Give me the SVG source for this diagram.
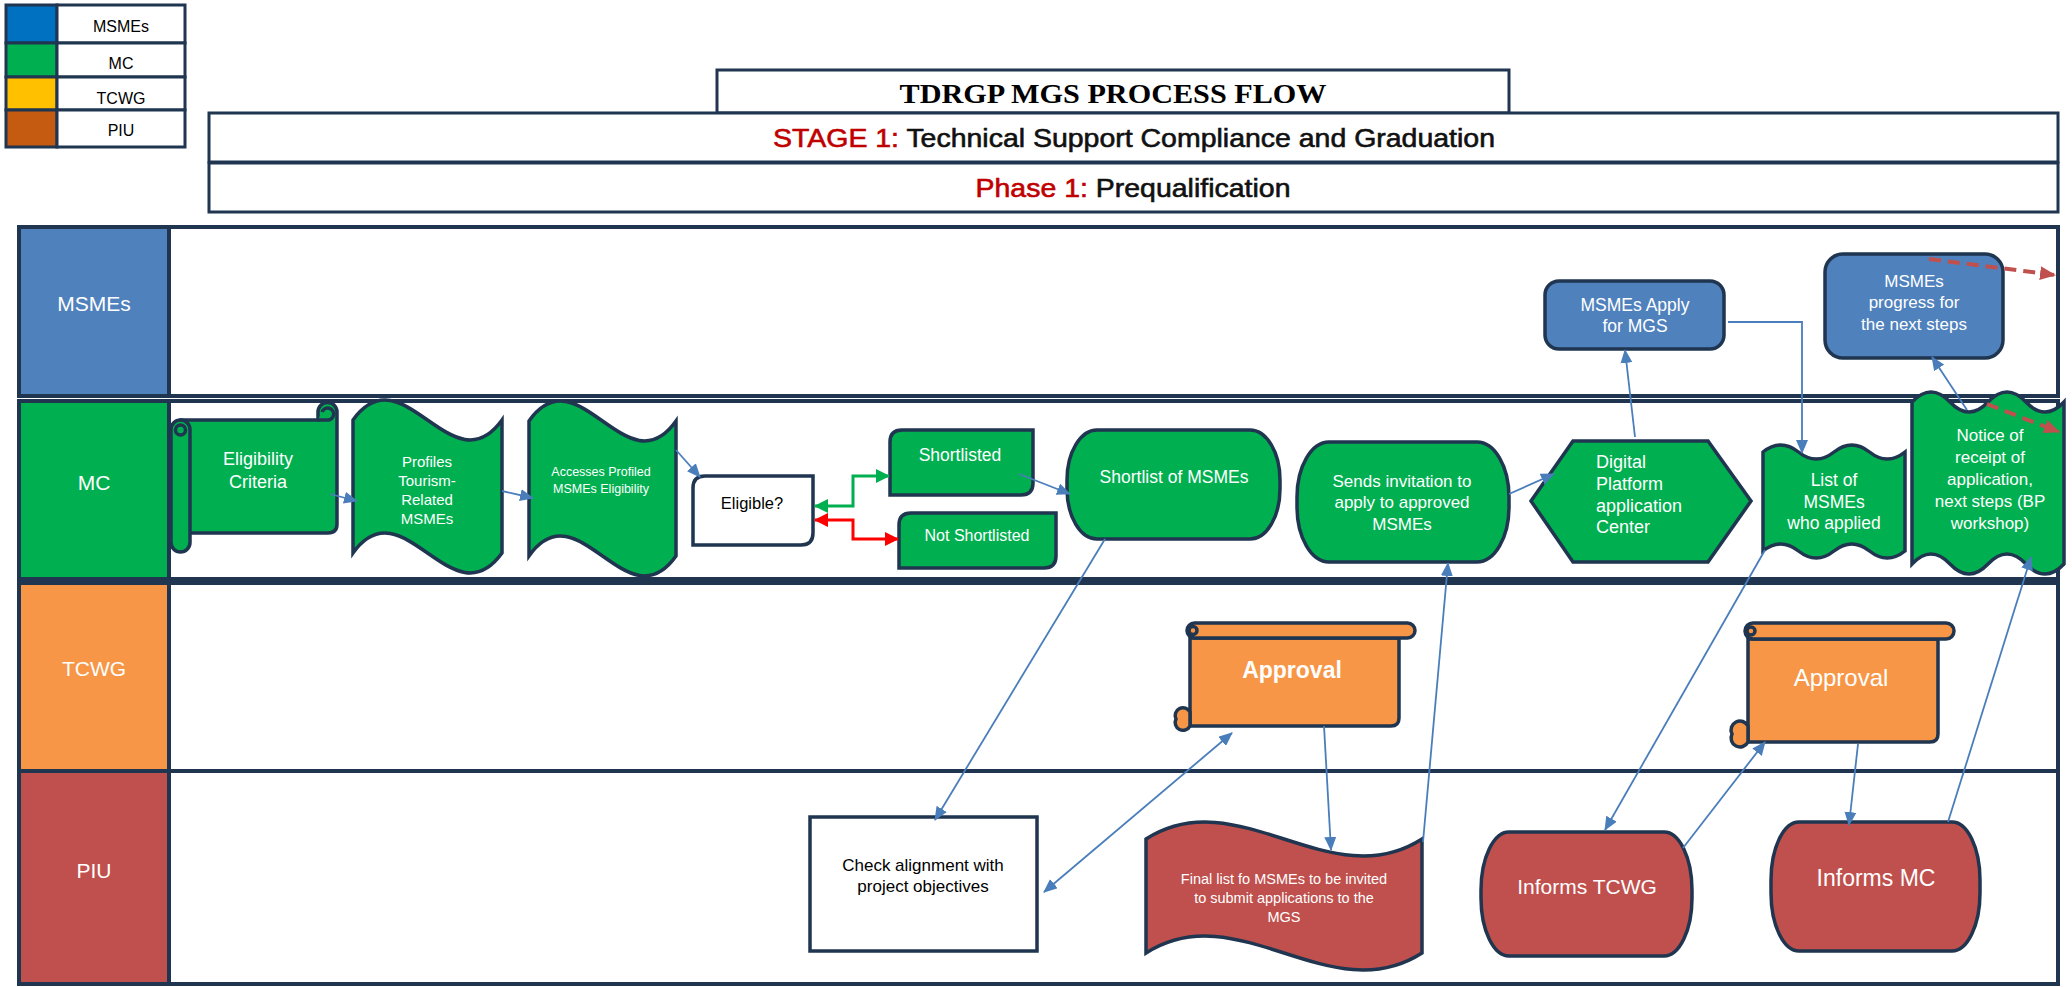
<svg xmlns="http://www.w3.org/2000/svg" width="2072" height="987" viewBox="0 0 2072 987">
<style>
text{font-family:"Liberation Sans",Arial,sans-serif;}
text.serif{font-family:"Liberation Serif","Times New Roman",serif;font-weight:bold;}
text.med{stroke:#111;stroke-width:0.6;}
tspan.red{fill:#c00000;stroke:#c00000;}
.t{fill:#fff;text-anchor:middle;dominant-baseline:central;}
.k{fill:#000;text-anchor:middle;dominant-baseline:central;}
.ol{stroke:#1f3550;stroke-width:3.5;}
.lane{fill:#fff;stroke:#1f3550;stroke-width:4;}
.hdr{stroke:#1f3550;stroke-width:4;}
.g{fill:#00b050;}
.b{fill:#4f81bd;}
.o{fill:#f79646;}
.r{fill:#c0504d;}
.w{fill:#fff;}
.c{fill:none;stroke:#4a7ebb;stroke-width:1.8;}
.box{stroke:#1f3550;stroke-width:3;}
.lg1{fill:#0070c0;}
.lg2{fill:#00b050;}
.lg3{fill:#ffc000;}
.lg4{fill:#c55a11;}
</style>
<defs>
<marker id="ab" markerUnits="userSpaceOnUse" markerWidth="14" markerHeight="12" refX="13" refY="6" orient="auto-start-reverse"><path d="M0,0 L14,6 L0,12 z" fill="#4a7ebb"/></marker>
<marker id="ag" markerUnits="userSpaceOnUse" markerWidth="14" markerHeight="14" refX="13" refY="7" orient="auto-start-reverse"><path d="M0,0 L14,7 L0,14 z" fill="#00b050"/></marker>
<marker id="ar" markerUnits="userSpaceOnUse" markerWidth="14" markerHeight="14" refX="13" refY="7" orient="auto-start-reverse"><path d="M0,0 L14,7 L0,14 z" fill="#ff0000"/></marker>
<marker id="ad" markerUnits="userSpaceOnUse" markerWidth="16" markerHeight="14" refX="15" refY="7" orient="auto"><path d="M0,0 L16,7 L0,14 z" fill="#c0504d"/></marker>
</defs>
<rect width="2072" height="987" fill="#fff"/>

<!-- Legend -->
<g id="legend">
<rect x="6" y="5" width="51" height="38" class="box lg1"/>
<rect x="57" y="5" width="128" height="38" class="box w"/>
<rect x="6" y="43" width="51" height="34" class="box lg2"/>
<rect x="57" y="43" width="128" height="34" class="box w"/>
<rect x="6" y="77" width="51" height="33" class="box lg3"/>
<rect x="57" y="77" width="128" height="33" class="box w"/>
<rect x="6" y="110" width="51" height="37" class="box lg4"/>
<rect x="57" y="110" width="128" height="37" class="box w"/>
<text class="k" x="121" y="26" font-size="16">MSMEs</text>
<text class="k" x="121" y="63" font-size="16">MC</text>
<text class="k" x="121" y="98" font-size="16">TCWG</text>
<text class="k" x="121" y="130" font-size="16">PIU</text>
</g>

<!-- Titles -->
<g id="titles">
<rect x="717" y="70" width="792" height="43" class="box w"/>
<text class="serif" x="1113" y="103" font-size="28" text-anchor="middle" textLength="427" lengthAdjust="spacingAndGlyphs" fill="#000">TDRGP MGS PROCESS FLOW</text>
<rect x="209" y="113" width="1849" height="49" class="box w"/>
<text class="med" x="1134" y="147" font-size="26" text-anchor="middle" textLength="722" lengthAdjust="spacingAndGlyphs" fill="#111"><tspan class="red">STAGE 1:</tspan> Technical Support Compliance and Graduation</text>
<rect x="209" y="163" width="1849" height="49" class="box w"/>
<text class="med" x="1133" y="197" font-size="26" text-anchor="middle" textLength="315" lengthAdjust="spacingAndGlyphs" fill="#111"><tspan class="red">Phase 1:</tspan> Prequalification</text>
</g>

<!-- Lanes -->
<g id="lanes">
<rect x="19" y="227" width="2039" height="169" class="lane"/>
<rect x="19" y="227" width="150" height="169" class="hdr b"/>
<text class="t" x="94" y="303" font-size="21">MSMEs</text>
<rect x="19" y="401" width="2039" height="178" class="lane"/>
<rect x="19" y="401" width="150" height="178" class="hdr g"/>
<text class="t" x="94" y="482" font-size="21">MC</text>
<rect x="19" y="583" width="2039" height="188" class="lane"/>
<rect x="19" y="583" width="150" height="188" class="hdr o"/>
<text class="t" x="94" y="668" font-size="21">TCWG</text>
<rect x="19" y="771" width="2039" height="213" class="lane"/>
<rect x="19" y="771" width="150" height="213" class="hdr r"/>
<text class="t" x="94" y="870" font-size="21">PIU</text>
</g>

<!-- MC nodes -->
<g id="eligibility-criteria">
<path class="g ol" d="M181,420 H318 V412 A9.5,9.5 0 0 1 337,412 V524 Q337,533 328,533 H181 Z"/>
<path class="g ol" d="M318,420 H327 A6,6 0 1 0 322,412"/>
<rect class="g ol" x="171" y="420" width="19" height="132" rx="9.5"/>
<circle class="g ol" cx="180.5" cy="430" r="5" stroke-width="2.5"/>
<text class="t" x="258" y="459" font-size="18">Eligibility</text>
<text class="t" x="258" y="482" font-size="18">Criteria</text>
</g>
<g id="profiles">
<path class="g ol" d="M353,420 C402.7,351 452.3,489 502,420 L502,553 C452.3,622 402.7,484 353,553 Z"/>
<text class="t" x="427" y="461" font-size="15">Profiles</text>
<text class="t" x="427" y="480" font-size="15">Tourism-</text>
<text class="t" x="427" y="499" font-size="15">Related</text>
<text class="t" x="427" y="518" font-size="15">MSMEs</text>
</g>
<g id="accesses">
<path class="g ol" d="M529,421 C578,352 627,490 676,421 L676,556 C627,625 578,487 529,556 Z"/>
<text class="t" x="601" y="472" font-size="12.5">Accesses Profiled</text>
<text class="t" x="601" y="489" font-size="12.5">MSMEs Eligibility</text>
</g>
<g id="eligible">
<path class="w ol" d="M705,476 H813 V533 Q813,545 801,545 H693 V488 Q693,476 705,476 Z"/>
<text class="k" x="752" y="503" font-size="16.5">Eligible?</text>
</g>
<g id="shortlisted">
<path class="g ol" d="M902,430 H1033 V483 Q1033,495 1021,495 H890 V442 Q890,430 902,430 Z"/>
<text class="t" x="960" y="455" font-size="17.5">Shortlisted</text>
</g>
<g id="not-shortlisted">
<path class="g ol" d="M911,513 H1056 V556 Q1056,568 1044,568 H899 V525 Q899,513 911,513 Z"/>
<text class="t" x="977" y="535" font-size="16">Not Shortlisted</text>
</g>
<g id="shortlist-of-msmes">
<rect class="g ol" x="1067" y="430" width="213" height="109" rx="30" ry="50"/>
<text class="t" x="1174" y="477" font-size="17.5">Shortlist of MSMEs</text>
</g>
<g id="sends-invitation">
<rect class="g ol" x="1297" y="442" width="212" height="120" rx="32" ry="55"/>
<text class="t" x="1402" y="481" font-size="17">Sends invitation to</text>
<text class="t" x="1402" y="502" font-size="17">apply to approved</text>
<text class="t" x="1402" y="524" font-size="17">MSMEs</text>
</g>
<g id="digital-platform">
<polygon class="g ol" points="1531,501 1573,441 1708,441 1751,501 1708,562 1573,562"/>
<text fill="#fff" dominant-baseline="central" x="1596" y="462" font-size="18">Digital</text>
<text fill="#fff" dominant-baseline="central" x="1596" y="484" font-size="18">Platform</text>
<text fill="#fff" dominant-baseline="central" x="1596" y="506" font-size="18">application</text>
<text fill="#fff" dominant-baseline="central" x="1596" y="527" font-size="18">Center</text>
</g>
<g id="list-of-msmes">
<path class="g ol" d="M1763,452 Q1780.75,438 1798.5,452 T1834,452 T1869.5,452 T1905,452 L1905,551 Q1887.25,565 1869.5,551 T1834,551 T1798.5,551 T1763,551 Z"/>
<text class="t" x="1834" y="480" font-size="17.5">List of</text>
<text class="t" x="1834" y="502" font-size="17.5">MSMEs</text>
<text class="t" x="1834" y="523" font-size="17.5">who applied</text>
</g>
<g id="notice">
<path class="g ol" d="M1912,402 Q1931,382 1950,402 T1988,402 T2026,402 T2064,402 L2064,564 Q2045,584 2026,564 T1988,564 T1950,564 T1912,564 Z"/>
<text class="t" x="1990" y="435" font-size="17">Notice of</text>
<text class="t" x="1990" y="457" font-size="17">receipt of</text>
<text class="t" x="1990" y="479" font-size="17">application,</text>
<text class="t" x="1990" y="501" font-size="17">next steps (BP</text>
<text class="t" x="1990" y="523" font-size="17">workshop)</text>
</g>

<!-- MSMEs nodes -->
<g id="msmes-apply">
<rect class="b ol" x="1545" y="281" width="179" height="68" rx="14"/>
<text class="t" x="1635" y="305" font-size="17.5">MSMEs Apply</text>
<text class="t" x="1635" y="326" font-size="17.5">for MGS</text>
</g>
<g id="msmes-progress">
<rect class="b ol" x="1825" y="254" width="178" height="104" rx="18"/>
<text class="t" x="1914" y="281" font-size="17">MSMEs</text>
<text class="t" x="1914" y="302" font-size="17">progress for</text>
<text class="t" x="1914" y="324" font-size="17">the next steps</text>
</g>

<!-- TCWG nodes -->
<g id="approval-1">
<path class="o ol" d="M1190,638 V726 H1391 Q1399,726 1399,718 V638 Z"/>
<path class="o ol" d="M1190,712 A7,7 0 0 0 1176,719 A7,7 0 0 0 1190,726 Z"/>
<rect class="o ol" x="1187" y="623" width="228" height="15" rx="7.5"/>
<circle class="o ol" cx="1193" cy="630.5" r="4" stroke-width="2"/>
<text class="t" x="1292" y="670" font-size="23" font-weight="bold">Approval</text>
</g>
<g id="approval-2">
<path class="o ol" d="M1748,639 V742 H1930 Q1938,742 1938,734 V639 Z"/>
<path class="o ol" d="M1748,726 A8,8 0 0 0 1732,734 A8,8 0 0 0 1748,742 Z"/>
<rect class="o ol" x="1745" y="623" width="209" height="16" rx="8"/>
<circle class="o ol" cx="1751" cy="631" r="4" stroke-width="2"/>
<text class="t" x="1841" y="677" font-size="24">Approval</text>
</g>

<!-- PIU nodes -->
<g id="check-alignment">
<rect class="w ol" x="810" y="817" width="227" height="134"/>
<text class="k" x="923" y="865" font-size="17">Check alignment with</text>
<text class="k" x="923" y="886" font-size="17">project objectives</text>
</g>
<g id="final-list">
<path class="r ol" d="M1146,839 C1238,780 1330,898 1422,839 L1422,953 C1330,1012 1238,894 1146,953 Z"/>
<text class="t" x="1284" y="879" font-size="14.5">Final list fo MSMEs to be invited</text>
<text class="t" x="1284" y="898" font-size="14.5">to submit applications to the</text>
<text class="t" x="1284" y="917" font-size="14.5">MGS</text>
</g>
<g id="informs-tcwg">
<rect class="r ol" x="1481" y="832" width="211" height="124" rx="28" ry="58"/>
<text class="t" x="1587" y="886" font-size="21">Informs TCWG</text>
</g>
<g id="informs-mc">
<rect class="r ol" x="1771" y="822" width="209" height="129" rx="28" ry="58"/>
<text class="t" x="1876" y="878" font-size="23">Informs MC</text>
</g>

<!-- Connectors -->
<g id="connectors">
<line class="c" x1="330" y1="494" x2="357" y2="501" marker-end="url(#ab)"/>
<line class="c" x1="502" y1="491" x2="533" y2="498" marker-end="url(#ab)"/>
<line class="c" x1="676" y1="450" x2="700" y2="477" marker-end="url(#ab)"/>
<line class="c" x1="1019" y1="474" x2="1070" y2="494" marker-end="url(#ab)"/>
<line class="c" x1="1105" y1="539" x2="935" y2="820" marker-end="url(#ab)"/>
<line class="c" x1="1044" y1="892" x2="1232" y2="733" marker-start="url(#ab)" marker-end="url(#ab)"/>
<line class="c" x1="1324" y1="726" x2="1331" y2="850" marker-end="url(#ab)"/>
<line class="c" x1="1423" y1="842" x2="1448" y2="563" marker-end="url(#ab)"/>
<line class="c" x1="1509" y1="494" x2="1554" y2="474" marker-end="url(#ab)"/>
<line class="c" x1="1635" y1="437" x2="1625" y2="350" marker-end="url(#ab)"/>
<polyline class="c" points="1728,322 1802,322 1802,453" marker-end="url(#ab)"/>
<line class="c" x1="1765" y1="550" x2="1605" y2="830" marker-end="url(#ab)"/>
<line class="c" x1="1683" y1="848" x2="1765" y2="742" marker-end="url(#ab)"/>
<line class="c" x1="1858" y1="744" x2="1849" y2="825" marker-end="url(#ab)"/>
<line class="c" x1="1948" y1="822" x2="2031" y2="557" marker-end="url(#ab)"/>
<line class="c" x1="1967" y1="410" x2="1932" y2="357" marker-end="url(#ab)"/>
<polyline points="815,506 853,506 853,476 889,476" fill="none" stroke="#00b050" stroke-width="3" marker-start="url(#ag)" marker-end="url(#ag)"/>
<polyline points="815,520 853,520 853,539 898,539" fill="none" stroke="#ff0000" stroke-width="3" marker-start="url(#ar)" marker-end="url(#ar)"/>
<line x1="1929" y1="259" x2="2055" y2="275" stroke="#c0504d" stroke-width="4" stroke-dasharray="12,7" marker-end="url(#ad)"/>
<line x1="1987" y1="404" x2="2059" y2="432" stroke="#c0504d" stroke-width="4" stroke-dasharray="12,7" marker-end="url(#ad)"/>
</g>
</svg>
